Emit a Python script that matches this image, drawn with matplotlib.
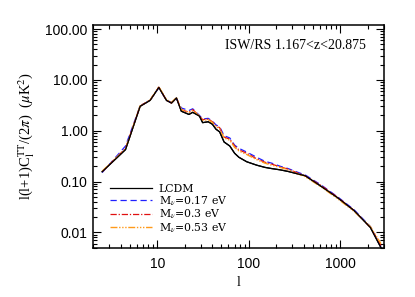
import matplotlib
matplotlib.use("Agg")
import matplotlib.pyplot as plt
from matplotlib.ticker import FixedLocator, FormatStrFormatter, LogLocator, NullFormatter

# multipoles and spectra
ell = [2.5, 4.5, 6.5, 8.35, 10.4, 12.6, 14.3, 16.2, 18.3, 22.2, 24.4, 28.9, 31.3, 36, 40,
       43.8, 48, 53.7, 62, 70, 78, 95, 122, 150, 178, 220, 269, 350, 413, 620, 935, 1410,
       2130, 2780]
cl_lcdm = [0.156, 0.425, 3.02, 3.95, 7.1, 3.95, 3.5, 4.4, 2.42, 2.09, 2.3, 1.94, 1.44, 1.5, 1.34,
           1.07, 0.95, 0.6, 0.5, 0.36, 0.3, 0.245, 0.21, 0.19, 0.18, 0.17, 0.158, 0.14, 0.13,
           0.08, 0.048, 0.027, 0.0125, 0.005]
cl_017 = [0.15, 0.5, 3.1, 3.95, 7.0, 4.0, 3.6, 4.3, 2.8, 2.5, 2.7, 2.0, 1.7, 1.75, 1.55,
          1.3, 1.2, 0.8, 0.72, 0.52, 0.45, 0.38, 0.3, 0.25, 0.23, 0.2, 0.18, 0.15, 0.135,
          0.085, 0.05, 0.028, 0.013, 0.0052]
cl_030 = [0.155, 0.45, 3.05, 4.0, 7.2, 3.95, 3.5, 4.4, 2.6, 2.3, 2.6, 1.95, 1.65, 1.7, 1.5,
          1.25, 1.15, 0.75, 0.68, 0.5, 0.42, 0.36, 0.28, 0.24, 0.22, 0.195, 0.175, 0.145, 0.13,
          0.083, 0.049, 0.027, 0.0125, 0.0055]
cl_053 = [0.16, 0.44, 3.1, 4.0, 7.3, 4.1, 3.6, 4.5, 2.6, 2.3, 2.5, 1.95, 1.6, 1.65, 1.45,
          1.2, 1.1, 0.72, 0.65, 0.47, 0.4, 0.34, 0.27, 0.23, 0.21, 0.19, 0.17, 0.14, 0.125,
          0.078, 0.046, 0.026, 0.013, 0.006]

plt.rcParams['mathtext.fontset'] = 'stix'
serif = 'Liberation Serif'

fig = plt.figure(figsize=(4.15, 2.97), dpi=100)
ax = fig.add_axes([0.2248, 0.166, 0.7005, 0.7498])

ax.plot(ell, cl_lcdm, color='black', lw=0.9, label='LCDM')
ax.plot(ell, cl_017, color='#2020ff', lw=0.9, ls=(0, (5, 3)), label=r'M$_\nu$=0.17 eV')
ax.plot(ell, cl_030, color='#e01010', lw=0.9, ls=(0, (5, 1.5, 1, 1.5)), label=r'M$_\nu$=0.3 eV')
ax.plot(ell, cl_053, color='#ff9a1a', lw=1.0, ls=(0, (5, 1.2, 1, 1.2, 1, 1.2, 1, 1.2)),
        label=r'M$_\nu$=0.53 eV')
# black drawn last on top
ax.plot(ell, cl_lcdm, color='black', lw=0.9)

ax.set_xscale('log')
ax.set_yscale('log')
ax.set_xlim(2, 3000)
ax.set_ylim(0.005, 120)

ax.yaxis.set_major_locator(FixedLocator([0.01, 0.1, 1, 10, 100]))
ax.yaxis.set_major_formatter(FormatStrFormatter('%.2f'))
ax.yaxis.set_minor_locator(LogLocator(base=10, subs=range(2, 10)))
ax.yaxis.set_minor_formatter(NullFormatter())
ax.xaxis.set_major_locator(FixedLocator([10, 100, 1000]))
ax.xaxis.set_major_formatter(FormatStrFormatter('%d'))
ax.xaxis.set_minor_locator(LogLocator(base=10, subs=range(2, 10)))
ax.xaxis.set_minor_formatter(NullFormatter())

ax.tick_params(which='both', direction='in', top=True, right=True, width=0.8)
ax.tick_params(which='major', length=6, labelsize=10)
ax.tick_params(which='minor', length=3)
ax.tick_params(axis='x', pad=7)
ax.tick_params(axis='y', pad=4)
for lab in ax.get_xticklabels() + ax.get_yticklabels():
    lab.set_fontfamily('Liberation Sans')
for s in ax.spines.values():
    s.set_linewidth(1.1)

ax.set_xlabel('l', fontfamily=serif, fontsize=10, labelpad=3)
ax.set_ylabel(r'l(l+1)C$_\mathrm{l}^\mathrm{TT}$/(2$\pi$)  ($\mu$K$^2$)', fontfamily=serif,
              fontsize=10.5, labelpad=6)

ax.text(0.937, 0.91, 'ISW/RS 1.167<z<20.875', transform=ax.transAxes, ha='right', va='center',
        fontfamily=serif, fontsize=10)

leg = ax.legend(loc='lower left', bbox_to_anchor=(0.035, 0.03), frameon=False, handlelength=3.9,
                handletextpad=0.6, labelspacing=0.0, borderpad=0.1,
                prop={'family': 'DejaVu Serif', 'size': 7.8})

fig.savefig('out.png', dpi=100)
